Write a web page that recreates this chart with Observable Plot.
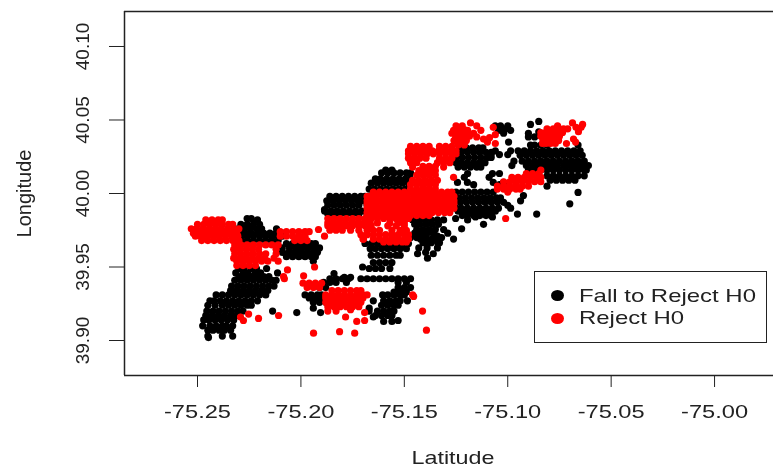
<!DOCTYPE html>
<html>
<head>
<meta charset="utf-8">
<script src="https://cdn.jsdelivr.net/npm/d3@7"></script>
<script src="https://cdn.jsdelivr.net/npm/@observablehq/plot@0.6"></script>
<style>
html,body{margin:0;padding:0;background:#fff;overflow:hidden}
#wrap{position:relative;width:773px;height:467px;filter:blur(0.45px)}
#legend{position:absolute;left:534px;top:271px;width:231px;height:70px;border:1.5px solid #222;background:#fff;
font:19px "Liberation Sans",sans-serif;color:#222}
#legend .r{position:absolute;left:44px;white-space:nowrap;line-height:22px;transform:scaleX(1.26);transform-origin:0 50%}
#legend i{position:absolute;left:16px;width:13px;height:11px;border-radius:50%}
svg text{fill:#222}
</style>
</head>
<body>
<div id="wrap">
<div id="chart"></div>
<div id="legend">
<i style="top:18px;background:#000"></i><div class="r" style="top:13px">Fall to Reject H0</div>
<i style="top:41px;background:#f00"></i><div class="r" style="top:35px">Reject H0</div>
</div>
</div>
<script>
// Each row: a latitude, then longitudes west of -75 in thousandths of a degree.
const blackRows = [
[39.949,[230,227.5,224,221.5,216.6]],[39.946,[231.5,228,225.5,222,219.5,211.3]],[39.9435,[230,227,224,221,218,215.5]],
[39.941,[232,229,226,223,220,217,214,212]],[39.937,[233.5,230.5,227.5,224.5,221.5,218.5,215.5,213]],[39.934,[234,231,228,225,222,219,216]],
[39.931,[241,238,235,232,229,226,223,220,217]],[39.927,[244,242,239,236,233,230,227,224,221]],[39.924,[245,241.5,238,235,232,229,226,224]],
[39.920,[245.5,242.5,239.5,236.5,233.5,230.5,228,213.7]],[39.919,[202]],[39.917,[246,243,240,237,234,231]],[39.914,[247,244.5,241.5,238.5,235.5,232.5]],
[39.910,[247.5,244,241,238,236,233]],[39.907,[245,242.5,239.5,237,234]],[39.903,[245,238,233]],[39.902,[244.7]],
[39.983,[226,224]],[39.982,[221]],[39.979,[229,226,223,220]],[39.976,[230.5,227.5,224.5,221.5,219,211.8]],
[39.973,[230,227,224,221,218,215,212,209]],[39.971,[229,226,223,220,217,214,211,209]],[39.968,[229,226,223,220,217,214,211]],
[39.966,[207,204,201,198,195,193]],[39.963,[209,205.5,202.5,199.5,196.5,193.5,191]],[39.960,[209,206,203,200,197,194,192]],[39.957,[207,204,201,198,195,193]],[39.954,[194]],
[39.966,[169,166,163,160,157,154,151,148]],[39.9625,[166.5,164,161,158,155,152,149]],[39.958,[166,163,160,157,154,152]],[39.953,[165,162,159,156]],
[39.949,[167,164,161,157]],[39.950,[170.2]],[39.9455,[184]],[39.943,[179,176]],
[39.942,[186,183,180,177,171,168,165,162,159,156,153,150,147]],[39.9395,[189,186,183,178,153,149]],[39.936,[191,188,153,150,147]],
[39.931,[198,195,192,190]],[39.929,[196,193,190,188]],[39.926,[194,191,188]],[39.922,[194,167]],[39.919,[190.5]],
[39.933,[155,152,149]],[39.931,[160.5,158,155,152,150]],[39.927,[165,160,157,154,152,148.5]],[39.924,[161,158,155,153]],[39.920,[167,163,160,157,155]],
[39.917,[164,161,158,156]],[39.916,[165]],[39.913,[160,156]],[39.9136,[153]],
[39.998,[186,183,180,177,174,171,169]],[39.995,[187.5,184.5,181.5,178.5,175.5,172.5,170,168]],[39.992,[187,184,181,178,175,172,168]],
[39.988,[188.5,185.5,182.5,179.5,176.5,173.5,170.5,168]],[39.986,[187,184,181,178,175,172,168]],[39.989,[188.6]],
[40.016,[159,156]],[40.014,[161,158,155,152,149,147]],[40.010,[164,161.5,158.5,155.5,152.5,149.5,147]],[40.007,[166,163,160,157,154,151,148]],
[40.003,[167,164.5,161.5,158.5,155.5,152.5,149.5,148]],[40.001,[165,162,159,156,153,150,148]],
[40.001,[125,122,119,116,113,110,107]],[39.997,[126,123.5,120.5,117.5,114.5,111.5,108.5,105.5,103.5]],[39.994,[126,123,120,117,114,111,108,105,102]],
[39.990,[125,122.5,119.5,116.5,113.5,110.5,107.5,104.5,98.6]],[39.988,[124,121,118,115,112,109,106]],[39.985,[122,119.5,116.5,113.5,110.5,108]],
[39.982,[146,143,140,137,134,131,119.4]],[39.979,[145,142.5,139.5,136.5,133.5,111.7]],[39.9755,[144,141,138,135,131]],[39.976,[122.3]],
[39.973,[145,142,139,136,129]],[39.970,[147,144,140,136,132]],[39.9665,[141,137,133]],[39.984,[107.4,115.6]],[39.969,[126.2,142.2,138.8]],[39.971,[134]],[39.967,[138.3,134]],[39.963,[134,139,143]],[39.956,[138.8]],[39.959,[143.6,136]],[39.960,[139.7]],[39.983,[125.2]],
[40.0075,[124.3,119.5,102,107]],[40.006,[116.5,104]],[40.0136,[107.4,119.4,104]],[40.011,[109,121]],[39.992,[100]],[39.986,[95.3,86]],[39.9986,[92.4]],[39.995,[93.8]],
[40.031,[123,120,117,114,112]],[40.028,[125,122.5,119.5,116.5,113.5,110.5,108]],[40.0245,[125,122,119,116,113,110,108]],[40.021,[125,122.5,119.5,116.5,113.5,111]],[40.018,[124,121,118,115,113]],
[40.029,[98.6,106]],[40.035,[99.6]],[40.0265,[108,104,100]],[40.046,[103.5,106,100]],[40.044,[101,103]],[40.043,[98.6,104.5]],[40.041,[102,90]],[40.047,[89]],[40.049,[85]],[40.042,[85]],[40.0385,[90,87]],
[40.033,[89,87,84,81,66]],[40.029,[95,92,89,86,83,80,77,74,71,68,65]],[40.026,[94,91,88,85,82,79,76,73,70,67,64]],[40.022,[97,93,90,87,84,81,78,75,72,69,66,63]],
[40.019,[98,91,88,85,82,79,76,73,70,67,64,61]],[40.016,[90,87,84,81,78,75,72,69,66,63,62]],[40.012,[81,78,75,72,69,66,63]],[40.009,[79.5,76.5,73.5,70.5,67.5]],
[40.0007,[66]],[39.993,[70]],[40.005,[81]]
];
const redRows = [
[39.982,[246,243,240,238]],[39.979,[250,247,244,241,238,235,233]],[39.976,[253,250.5,247.5,244.5,241.5,238.5,235.5,232.5,230]],[39.973,[252,249,246,243,240,237,234,231]],
[39.971,[251,248.5,245.5,242.5,239.5,236.5,233.5,230.5]],[39.968,[248,245,242,239,236,233,230]],
[39.965,[232,229,226,223,220,217,214,211]],[39.962,[232.5,229.5,226.5,223.5,220.5,212]],[39.959,[232,229,226,223,220,217,212]],[39.956,[232.5,229.5,226.5,223.5,220.5,217.5,213]],
[39.954,[231,228,225,222,219,216,211]],[39.951,[231,228,225,222]],
[39.974,[210,207,204,201,198,196]],[39.971,[210,207,204,201,198]],[39.968,[203,200,197]],
[40.001,[165,162,159,156,153,150,147,144,141,138,135,132,129,127]],
[39.998,[168,166.5,163.5,160.5,157.5,154.5,151.5,148.5,145.5,142.5,139.5,136.5,133.5,130.5,127.5,126]],
[39.995,[168,165,162,159,156,153,150,147,144,141,138,135,132,129,126]],
[39.993,[168,166.5,163.5,160.5,157.5,154.5,151.5,148.5,145.5,142.5,139.5,136.5,133.5,130.5,127.5,126]],
[39.990,[168,165,162,159,156,153,150,147,144,141,138,135,132,129,126]],
[39.987,[168,166.5,163.5,160.5,157.5,154.5,151.5,148.5,145.5,142.5,139.5,136.5,133.5,130.5,128]],
[39.985,[168,165,162,159,156,153,150,147,144,141,138]],
[40.0185,[141,138,135]],[40.0155,[143,140,137,135]],[40.0125,[144,141,138,135]],[40.009,[146,143,140,137,134]],[40.006,[147,144,141,138,135]],[40.003,[147,144,141,138,135]],
[40.032,[147,144,141,138,133,130,127]],[40.029,[148,145.5,142.5,139.5,136.5,133.5,130.5,127.5,125]],[40.027,[148,145,142,139,136,133,130,127,125]],
[40.024,[148,145.5,142.5,139.5,133,130,127]],[40.021,[147,144,134,131,128]],[40.018,[146,131]],
[39.983,[187,184,181,178,175,172,169,166,163,160,157,154,151,148]],
[39.980,[187,184.5,181.5,178.5,175.5,172.5,169.5,166.5,163,157,153,150]],[39.978,[187,184,181,178,175,172,169,166,158,154,150]],
[39.975,[186,183,180,176,172,168,165,162,156,152,149]],[39.972,[171,168,165,162,159,156,153,150,148]],[39.969,[170,165,162,159,156,153,150,148]],[39.967,[160,157,154,151,149]],
[40.045,[123.8,107]],[40.046,[125,122,115]],[40.0435,[124,121]],[40.043,[126.2,113,119.4]],[40.0415,[121.4]],[40.041,[127,124,119,116.5]],[40.038,[125.2,122.8,108.8]],[40.0385,[120,115]],[40.036,[126,123,120]],[40.035,[123.8,121.4,109.8]],[40.033,[124,121]],[40.048,[118]],[40.039,[118.5]],[40.037,[111.7]],[40.034,[106]],[40.040,[106]],
[40.0415,[81.7,73.5,84,79,76]],[40.043,[78.3]],[40.044,[81,78,75,73,71]],[40.046,[75.9]],[40.048,[68.7]],[40.047,[63.8]],[40.045,[67,64.5]],[40.042,[65.8]],[40.039,[84,81,78,75]],[40.0365,[83,80,78]],[40.037,[82.7,77.9,68.2]],[40.036,[75.4]],[40.034,[83.2,79.3,71.6,81.5,77]],[40.035,[67.2]],
[40.016,[84]],[40.0136,[91,88,85]],[40.011,[98,95,92,89,86,84]],[40.008,[102,99,96,93,90,87,84]],[40.005,[105,102,99,96,93,90]],[40.003,[105,102,99,96,94]],[40.001,[100]],
[39.934,[185,182,179,176,173,171]],[39.931,[188,185,182,179,176,173,170,168]],[39.929,[188,186.5,183.5,180.5,177.5,174.5,171.5,170]],[39.926,[188,185,182,179,176,173,171]],[39.923,[187,184,181,178,175,172]],[39.920,[187,183]],
[39.939,[199,196,193,190]],[39.936,[197,194,191]],
[39.948,[206.5]],[39.944,[198.7]],[39.942,[208]],[39.9435,[208.4]],[39.950,[193.4]],[39.9755,[191.5]],[39.971,[188.6]],[39.969,[169.7]],[39.930,[145.5]],[39.931,[146]],
[39.920,[141.2]],[39.907,[139.3]],[39.905,[193.9,174]],[39.906,[181.3]],[39.913,[173]],[39.9136,[169.2,227.8]],[39.919,[169.2]],[39.916,[178.4,229.2]],[39.921,[176]],
[39.915,[220.5]],[39.917,[210.8]],[39.918,[225.3]],[39.983,[101]],[40.011,[126.2]]
];
const xTicks = [-75.25,-75.20,-75.15,-75.10,-75.05,-75.00];
const yTicks = [39.90,39.95,40.00,40.05,40.10];
const xDomain = [-75.2853,-74.9715];
const yDomain = [39.8762,40.1238];

const expand = rows => rows.flatMap(([lat,ws]) => ws.map(w => ({lon:-75 - w/1000, lat})));
const black = expand(blackRows), red = expand(redRows);

const chart = Plot.plot({
  width:773, height:467,
  marginTop:11, marginBottom:92, marginLeft:124, marginRight:0,
  x:{domain:xDomain}, y:{domain:yDomain},
  style:{fontFamily:'"Liberation Sans",sans-serif', background:"#fff"},
  marks:[
    Plot.dot(black,{x:"lon",y:"lat",r:3.6,fill:"#000"}),
    Plot.dot(red,{x:"lon",y:"lat",r:3.6,fill:"#f00"}),
    Plot.ruleY([yDomain[0],yDomain[1]],{stroke:"#222",strokeWidth:1.5}),
    Plot.ruleX([xDomain[0]],{stroke:"#222",strokeWidth:1.5}),
    Plot.axisX({ticks:xTicks,tickFormat:d=>d.toFixed(2),tickSize:12,tickPadding:18,fontSize:18,label:null,stroke:"#222"}),
    Plot.axisY({ticks:yTicks,tickFormat:d=>d.toFixed(2),tickSize:15,tickPadding:21,fontSize:19,tickRotate:-90,label:null,stroke:"#222"}),
    Plot.text(["Latitude"],{frameAnchor:"bottom",dy:88,dx:4,fontSize:19,fill:"#222",textAnchor:"middle"}),
    Plot.text(["Longitude"],{frameAnchor:"left",dx:-100,rotate:-90,fontSize:20,fill:"#222",textAnchor:"middle"})
  ]
});
document.getElementById("chart").appendChild(chart);
// The reference's horizontal type is stretched: widen the real text glyphs to match.
d3.select(chart).selectAll('[aria-label="x-axis tick label"] text')
  .attr("textLength",67).attr("lengthAdjust","spacingAndGlyphs");
d3.select(chart).selectAll("text").filter(function(){return this.textContent==="Latitude"})
  .attr("textLength",83).attr("lengthAdjust","spacingAndGlyphs");
</script>
</body>
</html>
